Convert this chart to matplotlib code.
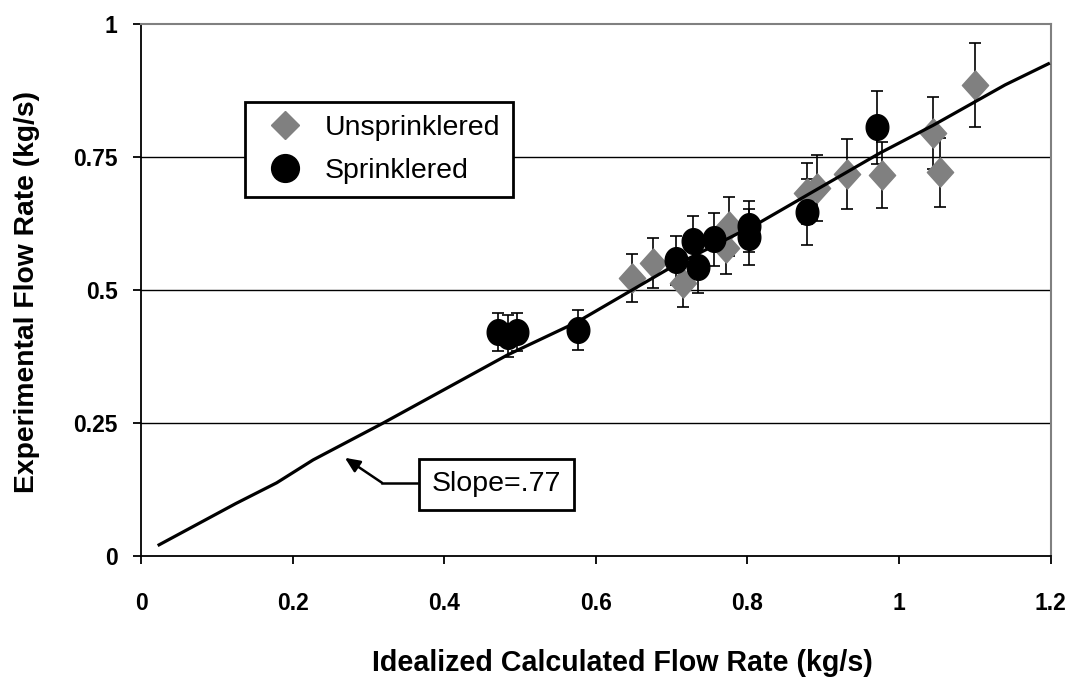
import matplotlib
matplotlib.use("Agg")
import numpy as np
import matplotlib.pyplot as plt
from matplotlib.lines import Line2D
from matplotlib.path import Path

plt.rcParams['font.family'] = ['Liberation Sans', 'DejaVu Sans']

# Unsprinklered (gray diamonds)
unspr_x = [0.648, 0.675, 0.715, 0.776, 0.772, 0.879, 0.892, 0.931, 0.977, 1.045, 1.054, 1.100]
unspr_y = [0.522, 0.550, 0.512, 0.619, 0.578, 0.681, 0.691, 0.717, 0.715, 0.794, 0.721, 0.884]
unspr_err = [0.045, 0.047, 0.045, 0.055, 0.048, 0.057, 0.062, 0.066, 0.062, 0.068, 0.065, 0.079]

# Sprinklered (black circles)
spr_x = [0.471, 0.484, 0.496, 0.577, 0.706, 0.728, 0.735, 0.756, 0.802, 0.802, 0.879, 0.971]
spr_y = [0.420, 0.413, 0.420, 0.424, 0.555, 0.591, 0.543, 0.595, 0.619, 0.599, 0.646, 0.805]
spr_err = [0.036, 0.040, 0.036, 0.037, 0.046, 0.047, 0.050, 0.050, 0.048, 0.052, 0.062, 0.068]

# Fitted line (slope .77)
fit_x = [0.022, 0.125, 0.179, 0.227, 0.319, 0.483, 0.575, 0.698, 0.817, 0.975, 1.045, 1.140, 1.199]
fit_y = [0.019, 0.098, 0.137, 0.180, 0.249, 0.377, 0.439, 0.541, 0.627, 0.757, 0.809, 0.885, 0.926]

x_ticks = [0, 0.2, 0.4, 0.6, 0.8, 1, 1.2]
x_ticklabels = ['0', '0.2', '0.4', '0.6', '0.8', '1', '1.2']
y_ticks = [0, 0.25, 0.5, 0.75, 1]
y_ticklabels = ['0', '0.25', '0.5', '0.75', '1']

GRAY = '#808080'

# slightly tall ellipse and diamond marker shapes
t = np.linspace(0, 2 * np.pi, 64)
ellipse = Path(np.column_stack([0.88 * np.cos(t), np.sin(t)]), closed=True)
diamond = Path([(0, 1), (0.9, 0), (0, -1), (-0.9, 0), (0, 1)], closed=True)

fig = plt.figure(figsize=(10.77, 6.86), dpi=100)
ax = fig.add_axes([141 / 1077, (686 - 555.7) / 686, (1050.6 - 141) / 1077, 532 / 686])
ax.set_xlim(0, 1.2)
ax.set_ylim(0, 1)

for g in [0.25, 0.5, 0.75]:
    ax.axhline(g, color='black', lw=1.0, zorder=1)

# error bars
ax.errorbar(unspr_x, unspr_y, yerr=unspr_err, fmt='none', ecolor='black',
            elinewidth=1.2, capsize=4, capthick=1.2, zorder=2)
ax.errorbar(spr_x, spr_y, yerr=spr_err, fmt='none', ecolor='black',
            elinewidth=1.2, capsize=4, capthick=1.2, zorder=2)

ax.plot(unspr_x, unspr_y, linestyle='none', marker=diamond, markersize=21,
        markerfacecolor=GRAY, markeredgecolor=GRAY, zorder=3)
ax.plot(spr_x, spr_y, linestyle='none', marker=ellipse, markersize=18.5,
        markerfacecolor='black', markeredgecolor='black', zorder=4)

ax.plot(fit_x, fit_y, color='black', lw=2.3, zorder=5, solid_capstyle='butt')

# spines
ax.spines['left'].set_color('black')
ax.spines['bottom'].set_color('black')
ax.spines['left'].set_linewidth(1.3)
ax.spines['bottom'].set_linewidth(1.3)
ax.spines['top'].set_color(GRAY)
ax.spines['right'].set_color(GRAY)
ax.spines['top'].set_linewidth(1.5)
ax.spines['right'].set_linewidth(1.5)

ax.set_xticks(x_ticks)
ax.set_xticklabels(x_ticklabels)
ax.set_yticks(y_ticks)
ax.set_yticklabels(y_ticklabels)
ax.tick_params(axis='both', direction='out', length=6, width=1.3, color='black',
               labelsize=16.5)
ax.tick_params(axis='x', pad=20)
ax.tick_params(axis='y', pad=11)
for lbl in ax.get_xticklabels() + ax.get_yticklabels():
    lbl.set_fontweight('bold')

ax.set_xlabel('Idealized Calculated Flow Rate (kg/s)', fontsize=20.6, fontweight='bold', va='center')
ax.set_ylabel('Experimental Flow Rate (kg/s)', fontsize=20.3, fontweight='bold', va='center')
ax.xaxis.set_label_coords(0.529, -0.2017)
ax.yaxis.set_label_coords(-0.1253, 0.4957)

# legend
handles = [
    Line2D([], [], linestyle='none', marker='D', markersize=14.5, markerfacecolor=GRAY, markeredgecolor=GRAY),
    Line2D([], [], linestyle='none', marker='o', markersize=20, markerfacecolor='black', markeredgecolor='black'),
]
leg = ax.legend(handles, ['Unsprinklered', 'Sprinklered'], loc='upper left',
                bbox_to_anchor=(0.1143, 0.853), fontsize=20.5, frameon=True, fancybox=False,
                borderpad=0.45, labelspacing=0.62, handletextpad=0.45, handlelength=1.9,
                borderaxespad=0, framealpha=1)
leg.get_frame().set_edgecolor('black')
leg.get_frame().set_linewidth(2.0)
leg.set_zorder(10)

# slope annotation
ax.plot([0.318, 0.364], [0.137, 0.137], color='black', lw=1.8, zorder=6)
ax.annotate('', xy=(0.269, 0.184), xytext=(0.318, 0.137),
            arrowprops=dict(arrowstyle='-|>,head_length=0.9,head_width=0.4', color='black', lw=1.8,
                            shrinkA=0, shrinkB=0), zorder=6)
ax.text(0.384, 0.134, 'Slope=.77', fontsize=20.5, ha='left', va='center', zorder=7,
        bbox=dict(boxstyle='square,pad=0.45', facecolor='white', edgecolor='black', linewidth=2.0))

fig.savefig('out.png', dpi=100)
